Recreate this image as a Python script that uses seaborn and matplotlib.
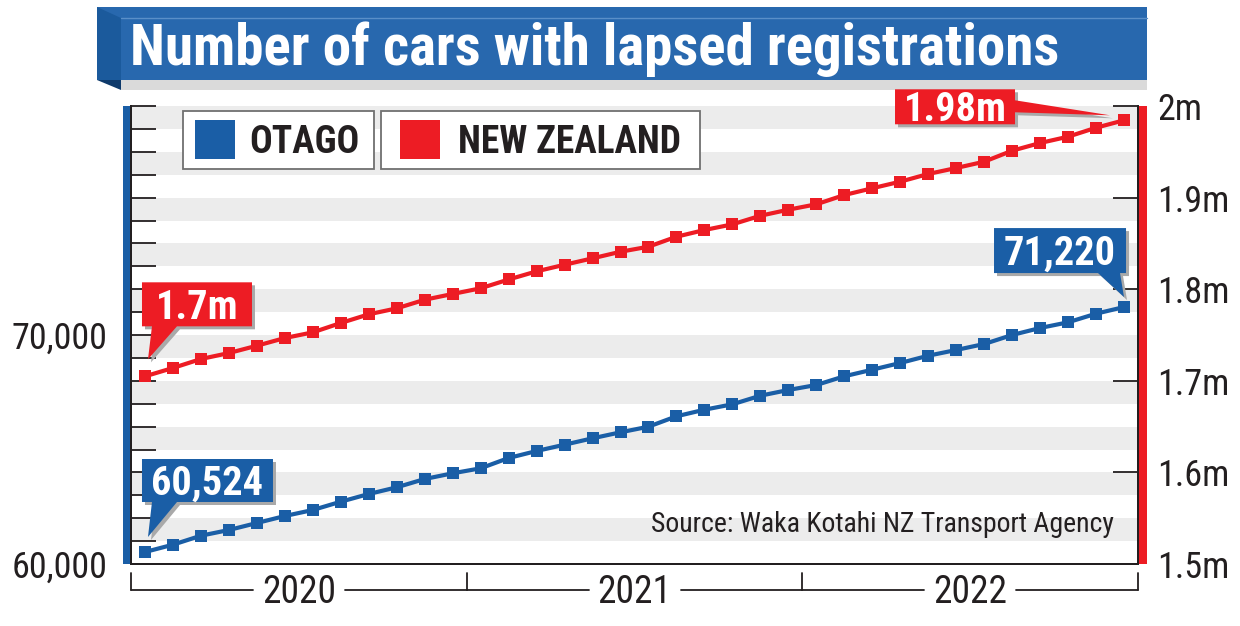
import numpy as np
import pandas as pd
import matplotlib
matplotlib.use("Agg")
import matplotlib.pyplot as plt
import seaborn as sns
from matplotlib import font_manager
from matplotlib.patches import Rectangle, Polygon
from matplotlib.transforms import blended_transform_factory
from matplotlib.ticker import FuncFormatter

# --- data ---
months = pd.period_range("2020-01", periods=36, freq="M")
years = ["2020", "2021", "2022"]
otago = [60524, 60843, 61236, 61485, 61790, 62096, 62358, 62721, 63057, 63349,
         63712, 63961, 64179, 64629, 64935, 65210, 65489, 65751, 65996, 66450,
         66738, 66974, 67350, 67599, 67817, 68197, 68485, 68778, 69096, 69345,
         69607, 70000, 70306, 70555, 70931, 71220]
new_zealand = [1704900, 1714000, 1723800, 1730300, 1738300, 1746700, 1752900,
               1763100, 1772600, 1779100, 1788500, 1794800, 1801000, 1810600,
               1819500, 1826700, 1833700, 1840900, 1846400, 1857300, 1864600,
               1870800, 1880200, 1886800, 1892700, 1902800, 1910200, 1917400,
               1925800, 1932300, 1939200, 1951200, 1959600, 1966500, 1976300,
               1984400]
series_names = ["OTAGO", "NEW ZEALAND"]
title = "Number of cars with lapsed registrations"
source = "Source: Waka Kotahi NZ Transport Agency"

BLUE = "#1a5ea6"
RED = "#ed1c24"
INK = "#231f20"
BAND = "#ececec"

sns.set_style("white")


def pick_condensed():
    # a narrow family that has real regular and bold faces
    faces = {}
    for f in font_manager.fontManager.ttflist:
        try:
            w = int(f.weight)
        except (TypeError, ValueError):
            w = 700 if "bold" in str(f.weight) else 400
        faces.setdefault(f.name, set()).add(w)
    for fam in ["Roboto Condensed", "Archivo Narrow", "IBM Plex Sans Condensed",
                "Fira Sans Condensed", "Liberation Sans Narrow", "Barlow Semi Condensed"]:
        if fam in faces and 400 in faces[fam] and 700 in faces[fam]:
            return fam
    return "DejaVu Sans"


NARROW = pick_condensed()
plt.rcParams["font.family"] = [NARROW, "DejaVu Sans"]

df = pd.DataFrame({"month": np.arange(len(months)), "otago": otago, "nz": new_zealand})

W, H = 1240, 626
fig = plt.figure(figsize=(W / 100, H / 100), dpi=100)
fig.patch.set_facecolor("white")

# plot box in pixels (top-origin)
L, R, B, T = 131, 1138, 564, 106
ax = fig.add_axes([L / W, 1 - B / H, (R - L) / W, (B - T) / H])
ax2 = ax.twinx()

ax.set_xlim(-0.5, len(months) - 0.5)
ax.set_ylim(60000, 80000)
ax2.set_ylim(1.5e6, 2.0e6)

# alternating grey bands
for v in range(61000, 80000, 2000):
    ax.axhspan(v, v + 1000, color=BAND, lw=0, zorder=0)

sns.lineplot(data=df, x="month", y="otago", ax=ax, color=BLUE, marker="s",
             markersize=8, markeredgewidth=0, linewidth=3)
sns.lineplot(data=df, x="month", y="nz", ax=ax2, color=RED, marker="s",
             markersize=8, markeredgewidth=0, linewidth=3)
ax.set_xlabel("")
ax.set_ylabel("")
ax2.set_ylabel("")

# ticks
ax.set_xticks(np.arange(-0.5, len(months), 1))
ax.set_xticklabels([])
ax.tick_params(axis="x", direction="in", length=8, width=1.2, color=INK)
ax.set_yticks(np.arange(60000, 80001, 1000))
ax.yaxis.set_major_formatter(FuncFormatter(
    lambda v, p: f"{int(v):,}" if v % 10000 == 0 and v < 80000 else ""))
ax.tick_params(axis="y", direction="in", length=18, width=1.3, color=INK,
               labelsize=26, labelcolor=INK, pad=17)
ax2.set_yticks(np.arange(1.5e6, 2.0e6 + 1, 1e5))
ax2.yaxis.set_major_formatter(FuncFormatter(lambda v, p: f"{v / 1e6:g}m"))
ax2.tick_params(axis="y", direction="in", length=18, width=1.3, color=INK,
                labelsize=26, labelcolor=INK, pad=14)

for a in (ax, ax2):
    a.spines["top"].set_visible(False)
    for s in a.spines.values():
        s.set_color(INK)
        s.set_linewidth(1.4)

# coloured axis bars
ax.add_patch(Rectangle((-8 / (R - L), 0), 7 / (R - L), 1, transform=ax.transAxes,
                       clip_on=False, color=BLUE, lw=0, zorder=5))
ax2.add_patch(Rectangle((1 + 1 / (R - L), 0), 8 / (R - L), 1, transform=ax2.transAxes,
                        clip_on=False, color=RED, lw=0, zorder=5))

# year brackets under the axis
trans = blended_transform_factory(ax.transData, ax.transAxes)
px_month = (R - L) / len(months)
fy = lambda px: -px / (B - T)
gap = 46 / px_month
for i, yr in enumerate(years):
    x0 = 12 * i - 0.5
    x1 = x0 + 12
    mid = x0 + 6
    kw = dict(transform=trans, clip_on=False, color=INK, lw=1.3)
    ax.plot([x0, mid - gap], [fy(26), fy(26)], **kw)
    ax.plot([mid + gap, x1], [fy(26), fy(26)], **kw)
    ax.plot([x0, x0], [fy(9), fy(26)], **kw)
    if i == len(years) - 1:
        ax.plot([x1, x1], [fy(9), fy(26)], **kw)
    ax.text(mid, fy(39), yr, transform=trans, ha="center", va="baseline",
            fontsize=27, color=INK)

# --- overlay in pixel coordinates for banner, legend, callouts ---
ov = fig.add_axes([0, 0, 1, 1])
ov.set_xlim(0, W)
ov.set_ylim(0, H)
ov.axis("off")
ov.set_zorder(10)
ov.patch.set_visible(False)
ty = lambda y: H - y

# title banner
ov.add_patch(Polygon([(97, ty(7)), (1147, ty(7)), (1147, ty(80)), (97, ty(80))],
                     color="#2868ae", lw=0))
ov.add_patch(Polygon([(97, ty(7)), (121, ty(18)), (121, ty(80)), (97, ty(80))],
                     color="#1b5a9c", lw=0))
ov.add_patch(Polygon([(97, ty(80)), (121, ty(80)), (121, ty(90))], color="#0e3a6b", lw=0))
ov.add_patch(Rectangle((121, ty(90)), 1147 - 121, 10, color="#dadada", lw=0))
ov.plot([121, 1147], [ty(18), ty(18)], color="#5a8fc8", lw=1)
ov.text(130, ty(65), title, color="white", fontsize=41, fontweight="bold",
        ha="left", va="baseline")

# legend
legend_boxes = [(183, 374, 195, 249), (381, 700, 400, 458)]
for name, color, (bx0, bx1, sx, tx) in zip(series_names, [BLUE, RED], legend_boxes):
    ov.add_patch(Rectangle((bx0, ty(169)), bx1 - bx0, 58, fc="white", ec="#707070", lw=1.3))
    ov.add_patch(Rectangle((sx, ty(159)), 40, 39, color=color, lw=0))
    ov.text(tx, ty(153), name, fontsize=27, fontweight="bold", color=INK,
            ha="left", va="baseline")


def callout(p, box, side, base, tip, color, text):
    x0, x1 = p[0] + box[0], p[0] + box[1]
    yt, yb = p[1] + box[2], p[1] + box[3]
    tp = (p[0] + tip[0], p[1] + tip[1])
    if side == "bottom":
        a, b = p[0] + base[0], p[0] + base[1]
        pts = [(x0, yt), (x1, yt), (x1, yb), (b, yb), tp, (a, yb), (x0, yb)]
    else:
        a, b = p[1] + base[0], p[1] + base[1]
        pts = [(x0, yt), (x1, yt), (x1, a), tp, (x1, b), (x1, yb), (x0, yb)]
    ov.add_patch(Polygon([(x + 3, y - 3) for x, y in pts], closed=True, fc="#a9a9a9", lw=0))
    ov.add_patch(Polygon(pts, closed=True, fc=color, lw=0))
    cap = 29 * 100 / 72 * 0.71
    ov.text((x0 + x1) / 2, (yt + yb) / 2 - cap / 2, text, color="white", fontsize=29,
            fontweight="bold", ha="center", va="baseline")


p_o0 = ax.transData.transform((0, otago[0]))
p_o1 = ax.transData.transform((len(otago) - 1, otago[-1]))
p_n0 = ax2.transData.transform((0, new_zealand[0]))
p_n1 = ax2.transData.transform((len(new_zealand) - 1, new_zealand[-1]))

callout(p_o0, (-3, 128, 93, 50), "bottom", (7, 32), (3, 15), BLUE, f"{otago[0]:,}")
callout(p_o1, (-130, 2, 79, 34), "bottom", (-26, -4), (0, 10), BLUE, f"{otago[-1]:,}")
callout(p_n0, (-3, 107, 94, 50), "bottom", (7, 32), (3, 17), RED, f"{new_zealand[0] / 1e6:.1f}m")
callout(p_n1, (-229, -109, 31, -4), "right", (20, 8), (-14, 5), RED, f"{new_zealand[-1] / 1e6:.2f}m")

ov.text(1114, ty(532), source, ha="right", va="baseline", fontsize=20, color=INK)

fig.savefig("out.png", dpi=100)
